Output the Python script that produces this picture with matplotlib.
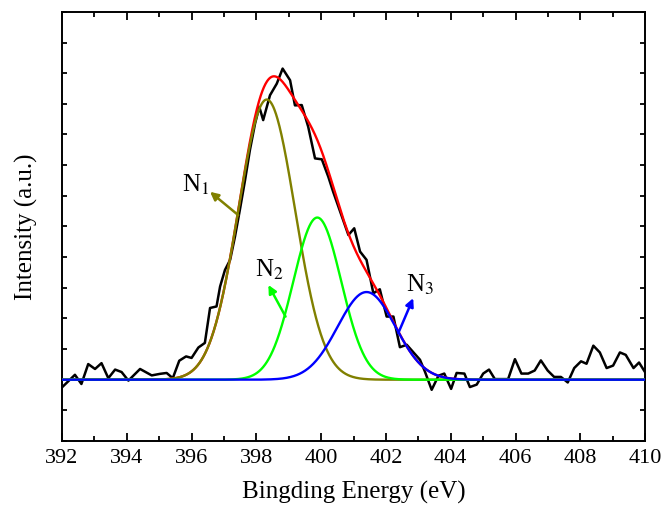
import numpy as np
import matplotlib.pyplot as plt

plt.rcParams['font.family'] = ['Liberation Serif', 'DejaVu Serif']
plt.rcParams['mathtext.fontset'] = 'stix'

# raw N 1s spectrum
energy = [392.0, 392.4, 392.6, 392.81, 393.02, 393.22, 393.43, 393.64, 393.84, 394.05,
          394.41, 394.77, 395.02, 395.23, 395.42, 395.62, 395.83, 396.0, 396.21, 396.41,
          396.57, 396.77, 396.88, 397.03, 397.19, 397.34, 397.49, 397.65, 397.80, 397.96,
          398.09, 398.21, 398.42, 398.63, 398.81, 399.04, 399.19, 399.40, 399.60, 399.81,
          400.02, 400.22, 400.37, 400.53, 400.84, 401.02, 401.2, 401.4, 401.61, 401.81,
          402.02, 402.23, 402.43, 402.64, 403.05, 403.2, 403.41, 403.62, 403.8, 404.01,
          404.18, 404.42, 404.59, 404.8, 405.0, 405.18, 405.36, 405.77, 405.98, 406.18,
          406.39, 406.59, 406.78, 406.99, 407.19, 407.40, 407.61, 407.81, 408.02, 408.19,
          408.40, 408.60, 408.81, 409.01, 409.22, 409.40, 409.64, 409.81, 410.0]
intensity = [-0.25, 0.16, -0.14, 0.51, 0.35, 0.54, 0.05, 0.33, 0.25, -0.03,
             0.35, 0.14, 0.19, 0.22, 0.05, 0.62, 0.76, 0.71, 1.05, 1.2,
             2.34, 2.39, 3.04, 3.58, 3.91, 4.67, 5.54, 6.51, 7.49, 8.36,
             8.9, 8.47, 9.28, 9.66, 10.15, 9.77, 8.95, 8.96, 8.25, 7.22,
             7.19, 6.62, 6.13, 5.65, 4.72, 4.94, 4.18, 3.91, 2.82, 2.95,
             2.06, 2.06, 1.06, 1.14, 0.65, 0.27, -0.33, 0.13, 0.2, -0.3,
             0.22, 0.2, -0.24, -0.16, 0.2, 0.33, 0.02, 0.02, 0.67, 0.2,
             0.2, 0.3, 0.63, 0.3, 0.09, 0.09, -0.09, 0.38, 0.6, 0.52,
             1.11, 0.89, 0.38, 0.46, 0.89, 0.81, 0.38, 0.56, 0.24]

# fitted gaussian components: N1, N2, N3
peak_names = ['N$_1$', 'N$_2$', 'N$_3$']
peak_centers = [398.32, 399.88, 401.40]
peak_heights = [9.14, 5.29, 2.86]
peak_sigmas = [0.875, 0.74, 0.89]
peak_colors = ['#808000', '#00ff00', '#0000ff']


def gauss(x, c, h, s):
    return h * np.exp(-(x - c)**2 / (2 * s * s))


xs = np.linspace(392, 410, 1500)
comps = [gauss(xs, c, h, s) for c, h, s in zip(peak_centers, peak_heights, peak_sigmas)]
envelope = np.sum(comps, axis=0)

fig = plt.figure(figsize=(6.65, 5.17), dpi=100)
ax = fig.add_axes([0.0932, 0.147, 0.877, 0.830])

ax.plot(energy, intensity, color='black', lw=1.8, zorder=2)
ax.plot(xs, envelope, color='red', lw=1.7, zorder=3)
for comp, col in zip(comps, peak_colors):
    ax.plot(xs, comp, color=col, lw=1.7, zorder=4)

# labels with arrows: (text pos, arrow head, arrow tail)
ann = [((396.12, 6.35), (396.57, 6.13), (397.44, 5.37)),
       ((398.39, 3.6), (398.37, 3.09), (398.9, 2.06)),
       ((403.05, 3.1), (402.84, 2.66), (402.38, 1.52))]
for name, col, (tpos, head, tail) in zip(peak_names, peak_colors, ann):
    ax.text(tpos[0], tpos[1], name, fontsize=18, ha='center', va='center')
    ax.annotate('', xy=head, xytext=tail,
                arrowprops=dict(arrowstyle='-|>', color=col, lw=1.8,
                                mutation_scale=12, shrinkA=0, shrinkB=0))

ax.set_xlim(392, 410)
ax.set_ylim(-2, 12)
ax.set_xticks(np.arange(392, 411, 2))
ax.set_xticks(np.arange(392, 411, 1), minor=True)
ax.set_yticks(np.arange(-2, 13, 1))
ax.set_yticklabels([])
ax.tick_params(axis='both', which='both', direction='in', top=True, right=True)
ax.tick_params(axis='x', which='major', length=6, width=1.3, labelsize=16, pad=6)
ax.tick_params(axis='x', which='minor', length=3.5, width=1.3)
ax.tick_params(axis='y', which='major', length=3.5, width=1.3)
for sp in ax.spines.values():
    sp.set_linewidth(1.4)

ax.set_xlabel('Bingding Energy (eV)', fontsize=18, labelpad=9)
ax.set_ylabel('Intensity (a.u.)', fontsize=18, labelpad=14)

fig.savefig('out.png', dpi=100)
